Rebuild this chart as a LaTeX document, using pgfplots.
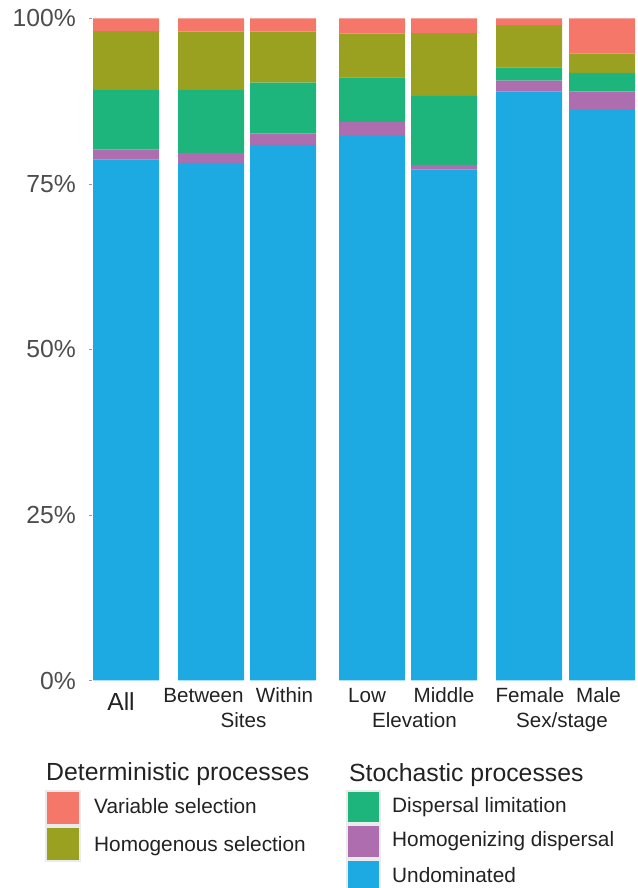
\documentclass[border=0pt]{standalone}
\usepackage{pgfplots}
\pgfplotsset{compat=1.18}
\usepackage{pgfplotstable}
\usepackage{fontspec}
\setmainfont{Liberation Sans}

\definecolor{varsel}{HTML}{F47769}
\definecolor{homsel}{HTML}{9AA121}
\definecolor{displim}{HTML}{1DB57B}
\definecolor{homdisp}{HTML}{AD6DAF}
\definecolor{undom}{HTML}{1DA9E1}
\definecolor{ticktxt}{HTML}{4D4D4D}
\definecolor{labtxt}{HTML}{222222}
\definecolor{keyline}{HTML}{EBEBEB}

% x = bar centre in picture units, values in percent
\pgfplotstableread{
x   U    HD   DL    HS   VS
126 78.7 1.5  9.0   8.9  1.9
211 78.2 1.5  9.5   8.8  2.0
283 80.9 1.7  7.7   7.7  2.0
372 82.4 2.0  6.7   6.6  2.3
444 77.2 0.7  10.4  9.5  2.2
529 89.0 1.6  2.0   6.4  1.0
602 86.3 2.7  2.8   2.9  5.3
}\proc

\begin{document}
\begin{tikzpicture}
\useasboundingbox (0bp,0bp) rectangle (638bp,888bp);
\begin{axis}[
  at={(92bp,207.5bp)}, anchor=south west,
  scale only axis, width=546bp, height=662bp,
  xmin=92, xmax=638, ymin=0, ymax=100,
  ybar stacked, bar width=66,
  axis line style={draw=none},
  xtick=\empty,
  ytick={0,25,50,75,100},
  yticklabels={0\%,25\%,50\%,75\%,100\%},
  major tick length=3bp, tick align=outside,
  tick style={color=gray!80, line width=0.8bp},
  yticklabel style={font=\fontsize{24.7bp}{28bp}\selectfont, text=ticktxt, inner sep=0pt, xshift=-13bp},
  clip=false,
]
\addplot[fill=undom, draw=none] table[x=x, y=U] {\proc};
\addplot[fill=homdisp, draw=none] table[x=x, y=HD] {\proc};
\addplot[fill=displim, draw=none] table[x=x, y=DL] {\proc};
\addplot[fill=homsel, draw=none] table[x=x, y=HS] {\proc};
\addplot[fill=varsel, draw=none] table[x=x, y=VS] {\proc};
\end{axis}

% category and group labels
\begin{scope}[every node/.style={anchor=base, inner sep=0pt, text=labtxt, font=\fontsize{20.6bp}{24bp}\selectfont}]
\node[font=\fontsize{24.7bp}{28bp}\selectfont] at (121bp,177bp) {All};
\node at (203.5bp,185bp) {Between};
\node at (284.5bp,185bp) {Within};
\node at (367bp,185bp) {Low};
\node at (444bp,185bp) {Middle};
\node at (530bp,185bp) {Female};
\node at (598.5bp,185bp) {Male};
\node at (243.5bp,160bp) {Sites};
\node at (414.5bp,160bp) {Elevation};
\node at (562bp,160bp) {Sex/stage};
\end{scope}

% legends
\begin{scope}[every node/.style={anchor=base west, inner sep=0pt, text=labtxt, font=\fontsize{20.8bp}{24bp}\selectfont}]
\node[font=\fontsize{24.8bp}{28bp}\selectfont] at (46bp,107bp) {Deterministic processes};
\node[font=\fontsize{24.8bp}{28bp}\selectfont] at (349bp,106bp) {Stochastic processes};
\fill[varsel, draw=keyline, line width=1.2bp] (46bp,63bp) rectangle (80bp,97bp);
\fill[homsel, draw=keyline, line width=1.2bp] (46bp,27bp) rectangle (80bp,61bp);
\fill[displim, draw=keyline, line width=1.2bp] (347bp,65bp) rectangle (380bp,97bp);
\fill[homdisp, draw=keyline, line width=1.2bp] (347bp,30bp) rectangle (380bp,63bp);
\fill[undom, draw=keyline, line width=1.2bp] (347bp,-2bp) rectangle (380bp,28bp);
\node at (94bp,74bp) {Variable selection};
\node at (94bp,37bp) {Homogenous selection};
\node at (392bp,75bp) {Dispersal limitation};
\node at (392bp,41bp) {Homogenizing dispersal};
\node at (392bp,6bp) {Undominated};
\end{scope}
\end{tikzpicture}
\end{document}
